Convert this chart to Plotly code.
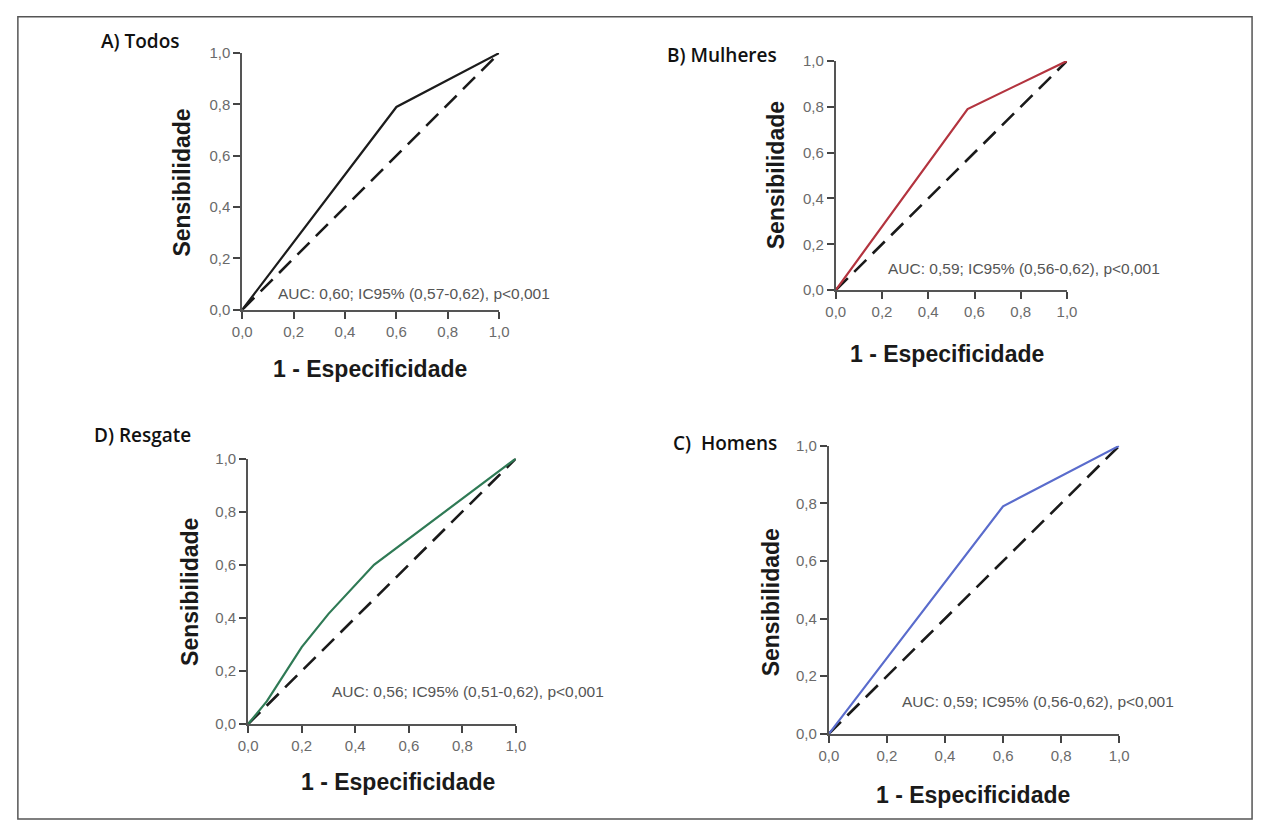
import plotly.graph_objects as go

W, H = 1266, 829

# ---- data ----
panel_titles = ["A) Todos", "B) Mulheres", "D) Resgate", "C)  Homens"]
auc_texts = [
    "AUC: 0,60; IC95% (0,57-0,62), p<0,001",
    "AUC: 0,59; IC95% (0,56-0,62), p<0,001",
    "AUC: 0,56; IC95% (0,51-0,62), p<0,001",
    "AUC: 0,59; IC95% (0,56-0,62), p<0,001",
]
todos_x = [0.0, 0.60, 1.0]
todos_y = [0.0, 0.79, 1.0]
mulheres_x = [0.0, 0.57, 1.0]
mulheres_y = [0.0, 0.79, 1.0]
resgate_x = [0.0, 0.07, 0.20, 0.30, 0.47, 0.95, 1.0]
resgate_y = [0.0, 0.086, 0.29, 0.415, 0.60, 0.96, 1.0]
homens_x = [0.0, 0.60, 1.0]
homens_y = [0.0, 0.79, 1.0]
ref_x = [0.0, 1.0]
ref_y = [0.0, 1.0]
tick_vals = [0.0, 0.2, 0.4, 0.6, 0.8, 1.0]
tick_text = ["0,0", "0,2", "0,4", "0,6", "0,8", "1,0"]
x_title = "1 - Especificidade"
y_title = "Sensibilidade"

series = [(todos_x, todos_y), (mulheres_x, mulheres_y), (resgate_x, resgate_y), (homens_x, homens_y)]
colors = ["#1c1c1c", "#b3343f", "#2f7a55", "#5a6ccc"]


def px(x):
    return x / W


def py(y):
    return 1 - y / H


# pixel boxes of plot areas: (x0, x1, ytop, ybottom)
boxes = [(236, 497, 45, 307), (839, 1074, 53, 287), (242, 514, 459, 730), (832, 1127, 446, 740)]
title_pos = [(90, 33), (666, 47), (83, 435), (672, 443)]
auc_pos = [(270, 290), (890, 265), (325, 697), (904, 707)]
ytitle_pos = [(175, 177), (778, 170), (183, 595), (773, 606)]
xtitle_pos = [(366, 368), (952, 352), (394, 789), (978, 802)]

fig = go.Figure()
annotations = []
for i, ((sx, sy), col, box) in enumerate(zip(series, colors, boxes)):
    n = "" if i == 0 else str(i + 1)
    xa, ya = "x" + n, "y" + n
    fig.add_trace(go.Scatter(x=ref_x, y=ref_y, mode="lines", xaxis=xa, yaxis=ya,
                             line=dict(color="#1a1a1a", width=2.6, dash="17px,9px"),
                             showlegend=False, hoverinfo="skip"))
    fig.add_trace(go.Scatter(x=sx, y=sy, mode="lines", xaxis=xa, yaxis=ya,
                             line=dict(color=col, width=2.2), showlegend=False))
    x0, x1, yt, yb = box
    axstyle = dict(range=[0, 1], tickvals=tick_vals, ticktext=tick_text,
                   showgrid=False, zeroline=False, showline=True,
                   linecolor="#555555", linewidth=2, ticks="outside",
                   ticklen=7, tickwidth=2, tickcolor="#444444",
                   tickfont=dict(family="Liberation Sans, Arial", size=15, color="#6a6a6a"))
    fig.layout["xaxis" + n] = dict(domain=[px(x0), px(x1)], anchor=ya, **axstyle)
    fig.layout["yaxis" + n] = dict(domain=[py(yb), py(yt)], anchor=xa, **axstyle)

    tx, ty = title_pos[i]
    annotations.append(dict(text=panel_titles[i], x=px(tx), y=py(ty), xref="paper", yref="paper",
                            xanchor="left", yanchor="middle", showarrow=False,
                            font=dict(family="Open Sans", size=19, color="#111111", weight=600)))
    ax_, ay_ = auc_pos[i]
    annotations.append(dict(text=auc_texts[i], x=px(ax_), y=py(ay_), xref="paper", yref="paper",
                            xanchor="left", yanchor="middle", showarrow=False,
                            font=dict(family="Liberation Sans, Arial", size=15.5, color="#555555")))
    yx, yy = ytitle_pos[i]
    annotations.append(dict(text=y_title, x=px(yx), y=py(yy), xref="paper", yref="paper",
                            xanchor="center", yanchor="middle", textangle=-90, showarrow=False,
                            font=dict(family="Liberation Sans, Arial", size=23, color="#1a1a1a", weight="bold")))
    xx, xy = xtitle_pos[i]
    annotations.append(dict(text=x_title, x=px(xx), y=py(xy), xref="paper", yref="paper",
                            xanchor="center", yanchor="middle", showarrow=False,
                            font=dict(family="Liberation Sans, Arial", size=23, color="#1a1a1a", weight="bold")))

fig.update_layout(
    width=W, height=H,
    margin=dict(l=0, r=0, t=0, b=0),
    paper_bgcolor="white", plot_bgcolor="white",
    annotations=annotations,
    shapes=[dict(type="rect", xref="paper", yref="paper",
                 x0=px(8), x1=px(1262), y0=py(827), y1=py(8),
                 line=dict(color="#555555", width=1.5))],
)

fig.write_html("out.html", config={"displayModeBar": False},
               post_script="document.body.style.margin='0';document.body.style.overflow='hidden';")
